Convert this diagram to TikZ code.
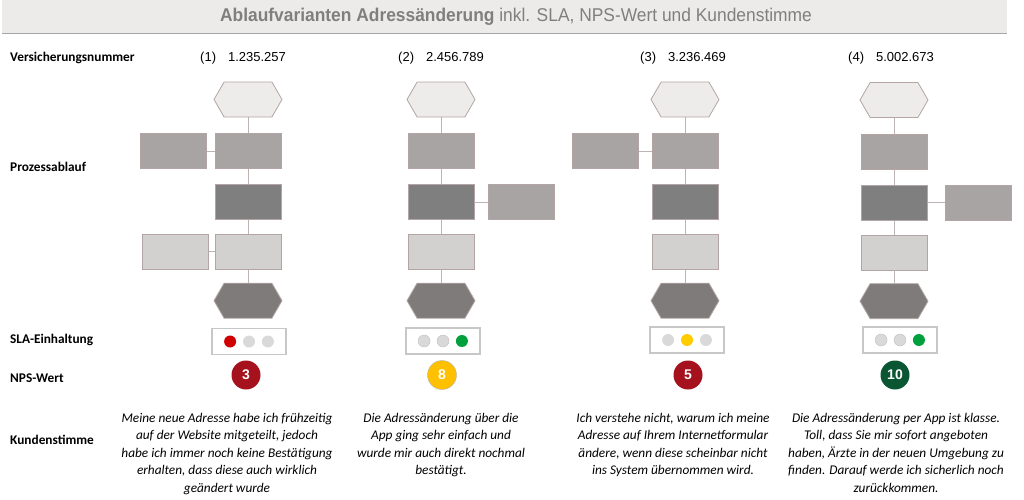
\documentclass[tikz,border=0pt]{standalone}
\usepackage{fontspec}
\setmainfont{Carlito}
\newfontfamily\arialfont{Liberation Sans}
\newfontfamily\narrowfont[FakeStretch=0.94]{Liberation Sans}
\usetikzlibrary{positioning,shapes.symbols}

\definecolor{titelbg}{HTML}{EDEBEA}
\definecolor{titelgrau}{HTML}{7F7F7F}
\definecolor{hexhell}{HTML}{EEEBEB}
\definecolor{boxmittel}{HTML}{A8A4A4}
\definecolor{boxdunkel}{HTML}{7F7F7F}
\definecolor{boxhell}{HTML}{D3D0D0}
\definecolor{hexdunkel}{HTML}{7F7B7B}
\definecolor{rand}{HTML}{B3A5A5}
\definecolor{linie}{HTML}{BDB3B3}
\definecolor{ampelgrau}{HTML}{D9D9D9}
\definecolor{ampelrot}{HTML}{D00000}
\definecolor{ampelgelb}{HTML}{FFCC00}
\definecolor{ampelgruen}{HTML}{00A03C}
\definecolor{npsrot}{HTML}{A5121E}
\definecolor{npsgelb}{HTML}{FFC000}
\definecolor{npsgruen}{HTML}{0A5532}

\begin{document}
\begin{tikzpicture}[
  x=1pt, y=-1pt,
  rowlabel/.style={font=\bfseries\fontsize{13.3}{16}\selectfont, anchor=west, inner sep=0pt},
  vnummer/.style={font=\arialfont\fontsize{13}{15}\selectfont, anchor=west, inner sep=0pt},
  starthex/.style={signal, signal to=east and west, signal pointer angle=120,
    draw=rand, line width=0.8pt, fill=hexhell, minimum width=68pt, minimum height=35pt, inner sep=0pt},
  endhex/.style={starthex, fill=hexdunkel},
  schritt/.style={draw=rand, line width=0.8pt, minimum width=66pt, minimum height=35pt, inner sep=0pt},
  mittel/.style={schritt, fill=boxmittel},
  dunkel/.style={schritt, fill=boxdunkel},
  hell/.style={schritt, fill=boxhell},
  verb/.style={draw=linie, line width=0.9pt},
  ampel/.style={draw=black!22, line width=1.2pt, minimum width=74pt, minimum height=26pt, inner sep=0pt},
  lampe/.style={circle, fill=ampelgrau, minimum size=12pt, inner sep=0pt},
  nps/.style={circle, minimum size=29pt, inner sep=0pt, text=white,
    font=\arialfont\bfseries\fontsize{14}{16}\selectfont},
  stimme/.style={font=\itshape\fontsize{13.3}{17.5}\selectfont, align=center, anchor=north, inner sep=0pt}
]
  \useasboundingbox (0,0) rectangle (1024,499);

  % --- Titelleiste ---
  \fill[titelbg] (2,0) rectangle (1007,33);
  \draw[black!35, line width=1.2pt] (2,33.5) -- (1007,33.5);
  \node (titel) at (516,17) {\narrowfont\fontsize{18.5}{20}\selectfont\color{titelgrau}%
    \textbf{Ablaufvarianten Adressänderung} inkl. SLA, NPS-Wert und Kundenstimme};

  % --- Zeilenbeschriftungen ---
  \node (lbvers)  [rowlabel] at (10,58)  {Versicherungsnummer};
  \node (lbproz)  [rowlabel] at (10,167) {Prozessablauf};
  \node (lbsla)   [rowlabel] at (10,340) {SLA-Einhaltung};
  \node (lbnps)   [rowlabel] at (10,378) {NPS-Wert};
  \node (lbstimme)[rowlabel] at (10,440) {Kundenstimme};

  % --- Versicherungsnummern ---
  \node (v1) [vnummer] at (200,58) {(1)\hspace{12pt}1.235.257};
  \node (v2) [vnummer] at (398,58) {(2)\hspace{12pt}2.456.789};
  \node (v3) [vnummer] at (640,58) {(3)\hspace{12pt}3.236.469};
  \node (v4) [vnummer] at (848,58) {(4)\hspace{12pt}5.002.673};

  % --- Variante 1 ---
  \node (h1)  [starthex] at (248,99.5) {};
  \node (a1)  [mittel, below=16pt of h1] {};
  \node (b1)  [dunkel, below=15pt of a1] {};
  \node (c1)  [hell,   below=14pt of b1] {};
  \node (e1)  [endhex, below=13pt of c1] {};
  \node (s1a) [mittel, left=8pt of a1] {};
  \node (s1c) [hell,   left=6pt of c1] {};
  \draw[verb] (h1) -- (a1) (a1) -- (b1) (b1) -- (c1) (c1) -- (e1);
  \draw[verb] (s1a) -- (a1) (s1c) -- (c1);

  % --- Variante 2 ---
  \node (h2)  [starthex] at (441,99.5) {};
  \node (a2)  [mittel, below=16pt of h2] {};
  \node (b2)  [dunkel, below=15pt of a2] {};
  \node (c2)  [hell,   below=14pt of b2] {};
  \node (e2)  [endhex, below=13pt of c2] {};
  \node (s2b) [mittel, right=14pt of b2] {};
  \draw[verb] (h2) -- (a2) (a2) -- (b2) (b2) -- (c2) (c2) -- (e2);
  \draw[verb] (b2) -- (s2b);

  % --- Variante 3 ---
  \node (h3)  [starthex] at (685,99.5) {};
  \node (a3)  [mittel, below=16pt of h3] {};
  \node (b3)  [dunkel, below=15pt of a3] {};
  \node (c3)  [hell,   below=14pt of b3] {};
  \node (e3)  [endhex, below=13pt of c3] {};
  \node (s3a) [mittel, left=13pt of a3] {};
  \draw[verb] (h3) -- (a3) (a3) -- (b3) (b3) -- (c3) (c3) -- (e3);
  \draw[verb] (s3a) -- (a3);

  % --- Variante 4 ---
  \node (h4)  [starthex] at (894,100) {};
  \node (a4)  [mittel, below=16pt of h4] {};
  \node (b4)  [dunkel, below=15pt of a4] {};
  \node (c4)  [hell,   below=14pt of b4] {};
  \node (e4)  [endhex, below=13pt of c4] {};
  \node (s4b) [mittel, right=18pt of b4] {};
  \draw[verb] (h4) -- (a4) (a4) -- (b4) (b4) -- (c4) (c4) -- (e4);
  \draw[verb] (b4) -- (s4b);

  % --- SLA-Ampeln ---
  \node (sla1) [ampel] at (249,341.5) {};
  \node (l1b) [lampe] at (sla1) {};
  \node (l1a) [lampe, fill=ampelrot, left=6.5pt of l1b] {};
  \node (l1c) [lampe, right=6.5pt of l1b] {};

  \node (sla2) [ampel] at (443,341) {};
  \node (l2b) [lampe, draw=black!25] at (sla2) {};
  \node (l2a) [lampe, draw=black!25, left=6.5pt of l2b] {};
  \node (l2c) [lampe, fill=ampelgruen, right=6.5pt of l2b] {};

  \node (sla3) [ampel] at (687,340) {};
  \node (l3b) [lampe, fill=ampelgelb] at (sla3) {};
  \node (l3a) [lampe, left=6.5pt of l3b] {};
  \node (l3c) [lampe, right=6.5pt of l3b] {};

  \node (sla4) [ampel] at (900,340) {};
  \node (l4b) [lampe, draw=black!25] at (sla4) {};
  \node (l4a) [lampe, draw=black!25, left=6.5pt of l4b] {};
  \node (l4c) [lampe, fill=ampelgruen, right=6.5pt of l4b] {};

  % --- NPS-Werte ---
  \node (n1) [nps, fill=npsrot] at (246,375) {3};
  \node (n2) [nps, fill=npsgelb, draw=black!30] at (442,375) {8};
  \node (n3) [nps, fill=npsrot] at (688,375) {5};
  \node (n4) [nps, fill=npsgruen] at (895,375) {10};

  % --- Kundenstimmen ---
  \node (k1) [stimme] at (227,413) {Meine neue Adresse habe ich frühzeitig\\
    auf der Website mitgeteilt, jedoch\\ habe ich immer noch keine Bestätigung\\
    erhalten, dass diese auch wirklich\\ geändert wurde};
  \node (k2) [stimme] at (441,413) {Die Adressänderung über die\\ App ging sehr einfach und\\
    wurde mir auch direkt nochmal\\ bestätigt.};
  \node (k3) [stimme] at (673,413) {Ich verstehe nicht, warum ich meine\\
    Adresse auf Ihrem Internetformular\\ ändere, wenn diese scheinbar nicht\\
    ins System übernommen wird.};
  \node (k4) [stimme] at (896,413) {Die Adressänderung per App ist klasse.\\
    Toll, dass Sie mir sofort angeboten\\ haben, Ärzte in der neuen Umgebung zu\\
    finden. Darauf werde ich sicherlich noch\\ zurückkommen.};
\end{tikzpicture}
\end{document}
